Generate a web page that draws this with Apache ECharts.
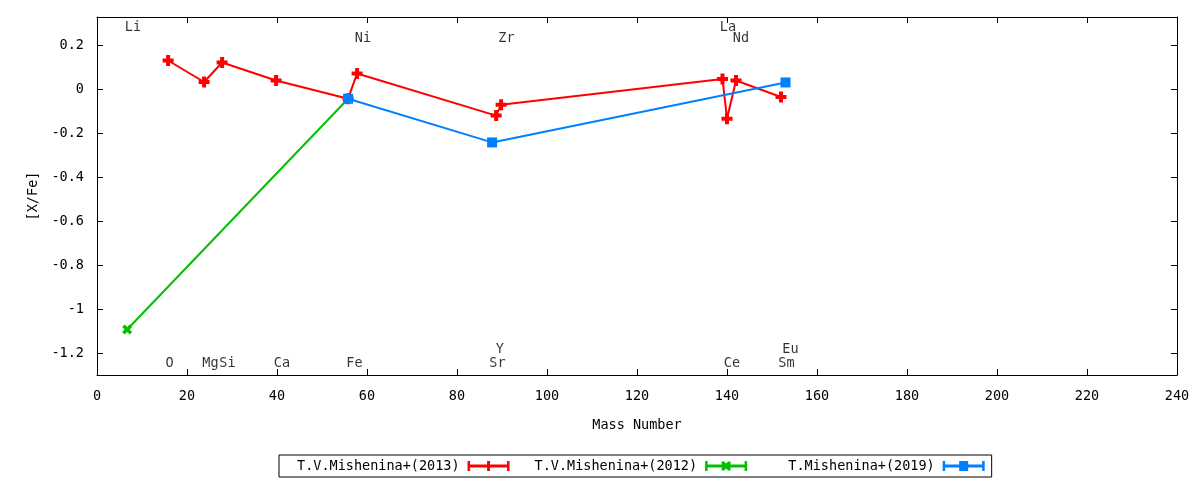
<!DOCTYPE html>
<html>
<head>
<meta charset="utf-8">
<script src="https://cdn.jsdelivr.net/npm/echarts@6/dist/echarts.min.js"></script>
<style>
html,body{margin:0;padding:0;background:#fff;}
#chart{width:1200px;height:480px;}
</style>
</head>
<body>
<div id="chart"></div>
<script>
// ---- data ----
const seriesNames = ['T.V.Mishenina+(2013)', 'T.V.Mishenina+(2012)', 'T.Mishenina+(2019)'];
const mass2013 = [15.8, 23.8, 27.8, 39.8, 55.8, 57.8, 88.7, 89.8, 139.0, 140.0, 142.0, 152.0];
const xfe2013  = [0.132, 0.034, 0.123, 0.041, -0.042, 0.073, -0.119, -0.069, 0.048, -0.133, 0.041, -0.034];
const mass2012 = [6.7, 55.8];
const xfe2012  = [-1.093, -0.042];
const mass2019 = [55.8, 87.8, 153.0];
const xfe2019  = [-0.042, -0.241, 0.032];
const elementNames = ['Li', 'O', 'Mg', 'Si', 'Ca', 'Fe', 'Ni', 'Zr', 'Y', 'Sr', 'La', 'Nd', 'Ce', 'Sm', 'Eu'];
const elementLabelX = [8.0, 16.1, 25.2, 29.0, 41.1, 57.2, 59.1, 91.0, 89.5, 89.0, 140.2, 143.1, 141.1, 153.2, 154.1];
const elementLabelY = [0.280, -1.246, -1.246, -1.246, -1.246, -1.246, 0.234, 0.234, -1.182, -1.246, 0.280, 0.234, -1.246, -1.246, -1.182];
const xTickMin = 0, xTickMax = 240, xTickStep = 20;
const yTickValues = [-1.2, -1.0, -0.8, -0.6, -0.4, -0.2, 0, 0.2];
const yMin = -1.3, yMax = 0.33;

// ---- styles ----
const FONT = 'DejaVu Sans Mono';
const FS = 13.5;
const colors = ['#ff0000', '#00c000', '#0080ff'];
const plusPath = 'path://M3.5,0H7.5V3.5H11V7.5H7.5V11H3.5V7.5H0V3.5H3.5Z';
const xPath = 'path://M0,2.5L2.5,0L5,2.5L7.5,0L10,2.5L7.5,5L10,7.5L7.5,10L5,7.5L2.5,10L0,7.5L2.5,5Z';
const barCaps = 'M0,0H2.5V3.5H39.5V0H42V10H39.5V6.5H2.5V10H0Z';
const legendIcons = [
  'path://' + barCaps + 'M19.5,0H22.5V10H19.5Z',
  'path://' + barCaps + 'M16.5,0.5L19,0.5L21,2.5L23,0.5L25.5,0.5L25.5,3L23.5,5L25.5,7L25.5,9.5L23,9.5L21,7.5L19,9.5L16.5,9.5L16.5,7L18.5,5L16.5,3Z',
  'path://' + barCaps + 'M16.5,0H25.5V10H16.5Z'
];

const zip = (xs, ys) => xs.map((x, i) => [x, ys[i]]);

const chart = echarts.init(document.getElementById('chart'), null, {renderer: 'canvas'});

const axisCommon = {
  axisLine: {show: true, onZero: false, lineStyle: {color: '#000', width: 1}},
  axisTick: {show: true, inside: true, length: 6, lineStyle: {color: '#000', width: 1}},
  splitLine: {show: false}
};

const option = {
  animation: false,
  backgroundColor: '#fff',
  textStyle: {fontFamily: FONT, fontSize: FS, color: '#000'},
  grid: {left: 97, right: 23, top: 17, bottom: 105, containLabel: false},
  xAxis: [
    Object.assign({
      type: 'value', position: 'bottom', min: xTickMin, max: xTickMax, interval: xTickStep,
      name: 'Mass Number', nameLocation: 'middle', nameGap: 43,
      nameTextStyle: {fontFamily: FONT, fontSize: FS, color: '#000'},
      axisLabel: {show: true, margin: 14, fontFamily: FONT, fontSize: FS, color: '#000'}
    }, axisCommon),
    Object.assign({
      type: 'value', position: 'top', min: xTickMin, max: xTickMax, interval: xTickStep,
      axisLabel: {show: false}
    }, axisCommon)
  ],
  yAxis: [
    Object.assign({}, axisCommon, {
      type: 'value', position: 'left', min: yMin, max: yMax,
      name: '[X/Fe]', nameLocation: 'middle', nameGap: 57, nameRotate: 90,
      nameTextStyle: {fontFamily: FONT, fontSize: FS, color: '#000'},
      axisTick: {show: true, inside: true, length: 6, lineStyle: {color: '#000', width: 1}, customValues: yTickValues},
      axisLabel: {show: true, margin: 13, fontFamily: FONT, fontSize: FS, color: '#000',
        customValues: yTickValues, formatter: v => String(Math.round(v * 10) / 10)}
    }),
    Object.assign({}, axisCommon, {
      type: 'value', position: 'right', min: yMin, max: yMax,
      axisTick: {show: true, inside: true, length: 6, lineStyle: {color: '#000', width: 1}, customValues: yTickValues},
      axisLabel: {show: false, customValues: yTickValues}
    })
  ],
  legend: {
    show: true,
    data: seriesNames.map((n, i) => ({name: n, icon: legendIcons[i]})),
    orient: 'horizontal',
    left: 279, top: 455,
    align: 'right',
    itemWidth: 42, itemHeight: 10, itemGap: 25,
    padding: [4, 7, 4, 18],
    borderColor: '#000', borderWidth: 1, borderRadius: 0,
    selectedMode: false,
    formatter: n => n.padStart(20, ' '),
    textStyle: {fontFamily: FONT, fontSize: FS, color: '#000', lineHeight: 12, padding: [0, 3, 0, 0]}
  },
  series: [
    {
      name: seriesNames[0], type: 'line', xAxisIndex: 0, yAxisIndex: 0,
      data: zip(mass2013, xfe2013),
      symbol: plusPath, symbolSize: 11, showAllSymbol: true,
      lineStyle: {color: colors[0], width: 2}, itemStyle: {color: colors[0]}
    },
    {
      name: seriesNames[1], type: 'line', xAxisIndex: 0, yAxisIndex: 0,
      data: zip(mass2012, xfe2012),
      symbol: xPath, symbolSize: 10, showAllSymbol: true,
      lineStyle: {color: colors[1], width: 2}, itemStyle: {color: colors[1]}
    },
    {
      name: seriesNames[2], type: 'line', xAxisIndex: 0, yAxisIndex: 0,
      data: zip(mass2019, xfe2019),
      symbol: 'rect', symbolSize: 10, showAllSymbol: true,
      lineStyle: {color: colors[2], width: 2}, itemStyle: {color: colors[2]}
    },
    {
      name: 'elements', type: 'scatter', xAxisIndex: 0, yAxisIndex: 0, silent: true,
      symbolSize: 1, itemStyle: {color: 'rgba(0,0,0,0)'},
      data: elementNames.map((n, i) => ({name: n, value: [elementLabelX[i], elementLabelY[i]]})),
      label: {show: true, position: 'inside', formatter: '{b}', fontFamily: FONT, fontSize: FS, color: '#000'},
      z: 5
    }
  ]
};
chart.setOption(option);
</script>
</body>
</html>
